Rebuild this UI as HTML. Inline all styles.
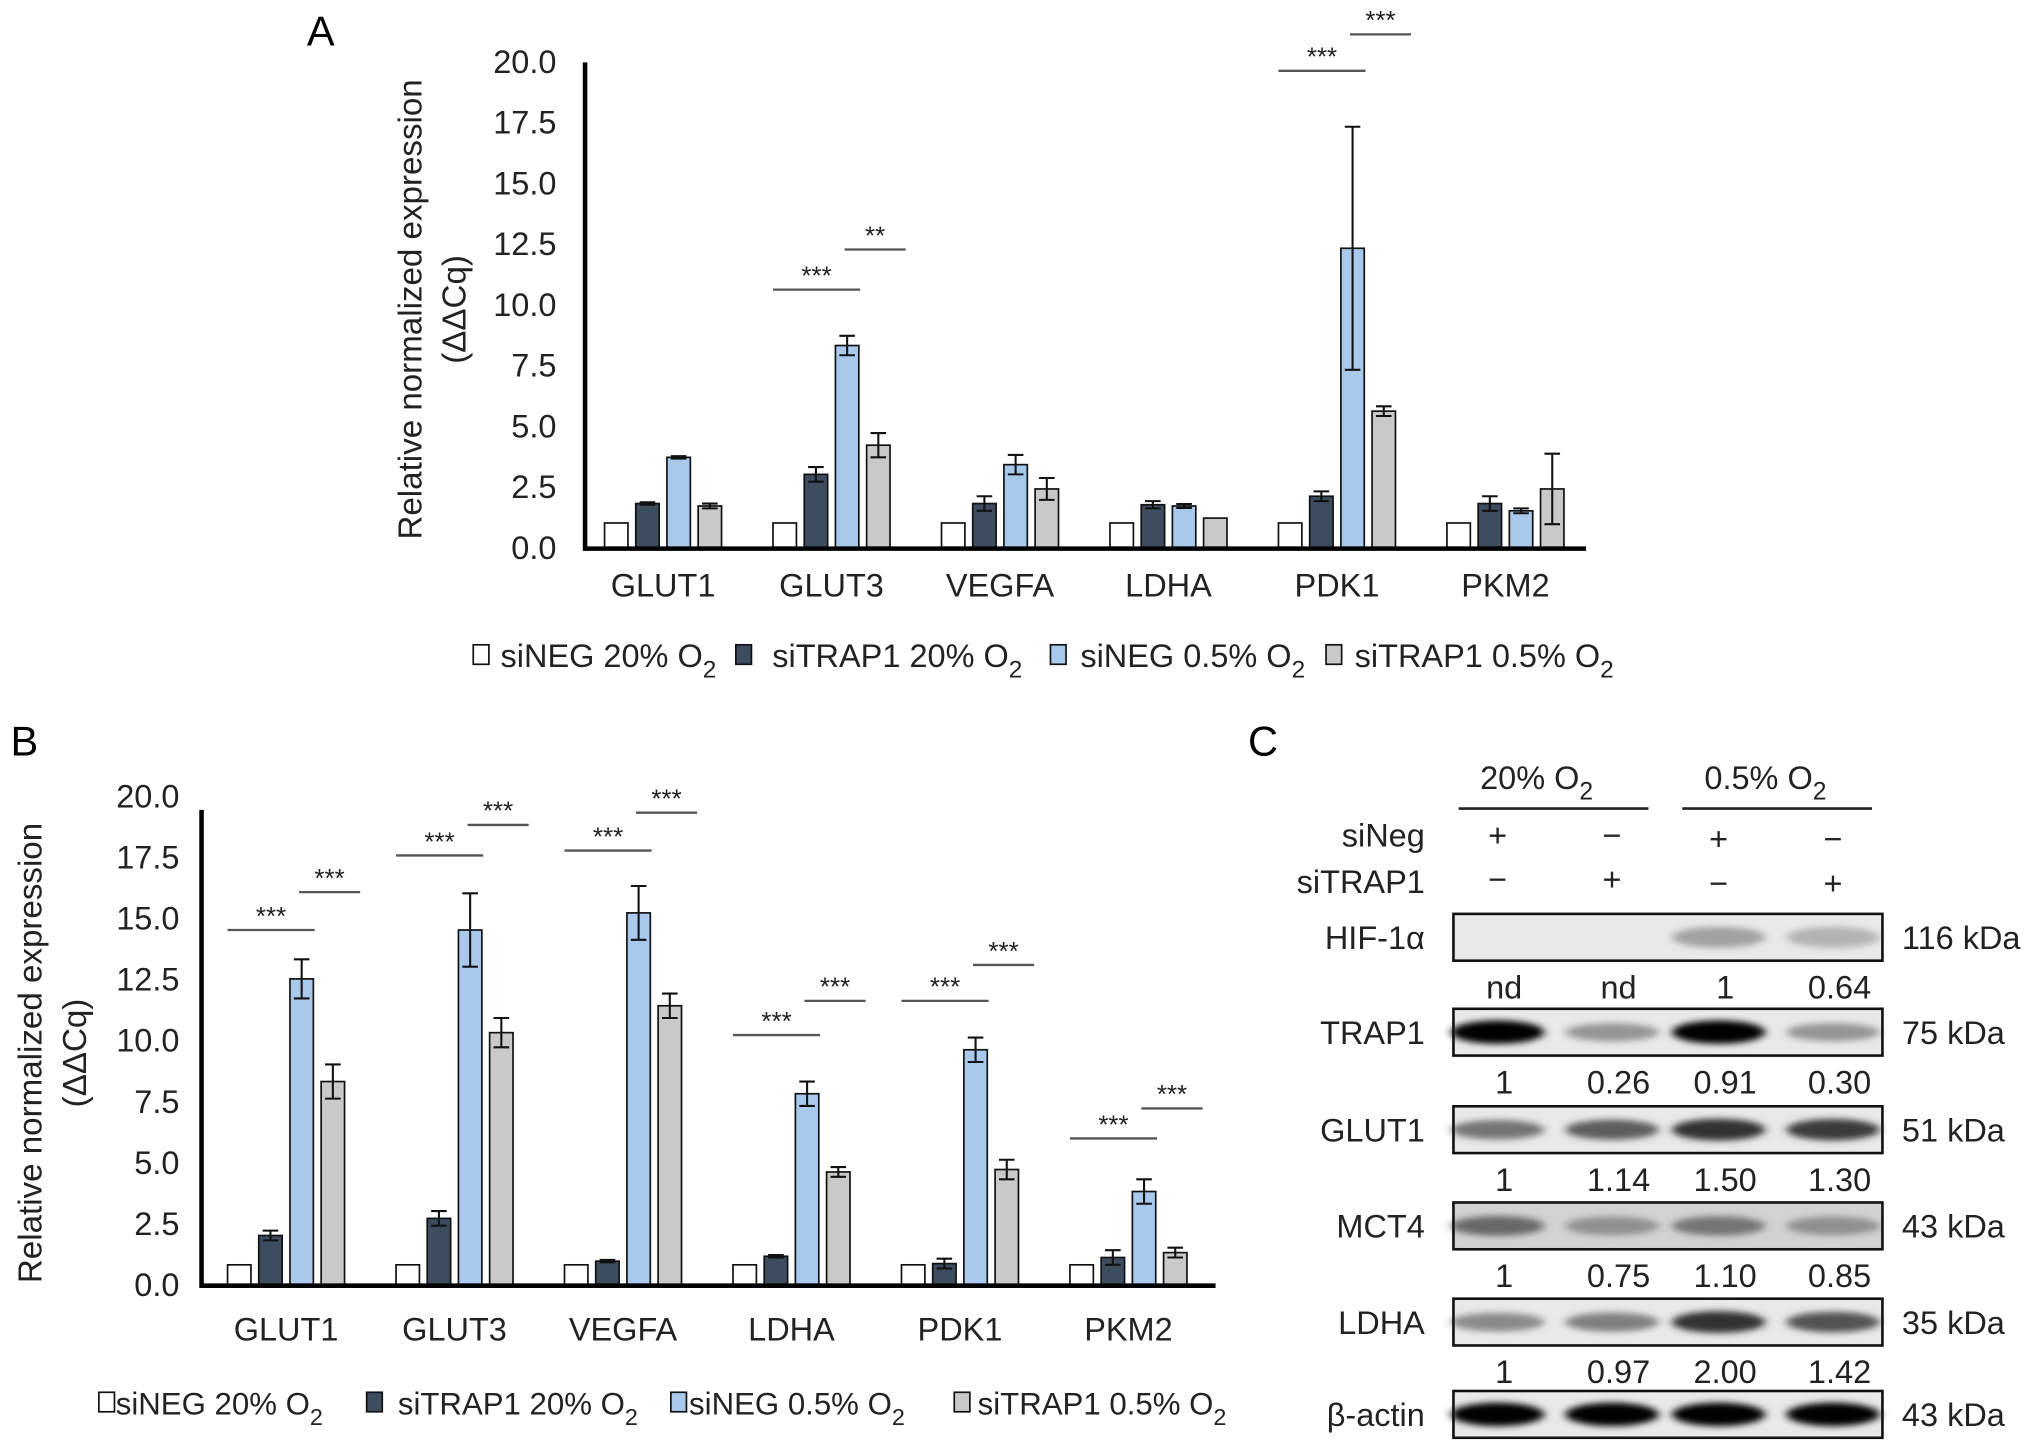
<!DOCTYPE html>
<html><head><meta charset="utf-8">
<style>
html,body{margin:0;padding:0;background:#fff;}
svg{display:block;font-family:"Liberation Sans",Arial,sans-serif;}
</style></head>
<body>
<svg id="fig" width="2032" height="1450" viewBox="0 0 1563 1115.4" xmlns="http://www.w3.org/2000/svg">
<defs>
<filter id="blur" x="-20%" y="-100%" width="140%" height="300%"><feGaussianBlur stdDeviation="3.5 2.5"/></filter>
</defs>
<text x="236" y="35" font-size="32">A</text>
<text x="8" y="581" font-size="32">B</text>
<text x="960" y="581" font-size="32">C</text>
<g id="chartA"></g>
<g id="chartB"></g>
<g id="panelC"></g>
</svg>
<script>
// ---- Data ----
const categories = ["GLUT1","GLUT3","VEGFA","LDHA","PDK1","PKM2"];
const seriesNames = ["siNEG 20% O","siTRAP1 20% O","siNEG 0.5% O","siTRAP1 0.5% O"];
const yTicks = ["0.0","2.5","5.0","7.5","10.0","12.5","15.0","17.5","20.0"];
// Panel A values [series][category]
const aSiNeg20 = [1,1,1,1,1,1];
const aSiTrap20 = [1.8,3.0,1.8,1.75,2.1,1.8];
const aSiNeg05 = [3.7,8.3,3.4,1.7,12.3,1.5];
const aSiTrap05 = [1.7,4.2,2.4,1.2,5.6,2.4];
const aErrNeg20 = [0,0,0,0,0,0];
const aErrTrap20 = [0.05,0.3,0.3,0.15,0.2,0.3];
const aErrNeg05 = [0.05,0.4,0.4,0.08,5.0,0.1];
const aErrTrap05 = [0.1,0.5,0.45,0,0.2,1.45];
// significance: [category index, which line (0/1), level, stars]
const aSig = [[1,0,10.6,"***"],[1,1,12.25,"**"],[4,0,19.6,"***"],[4,1,21.1,"***"]];
// Panel B values
const bSiNeg20 = [0.8,0.8,0.8,0.8,0.8,0.8];
const bSiTrap20 = [2.0,2.7,0.95,1.15,0.85,1.1];
const bSiNeg05 = [12.5,14.5,15.2,7.8,9.6,3.8];
const bSiTrap05 = [8.3,10.3,11.4,4.6,4.7,1.3];
const bErrNeg20 = [0,0,0,0,0,0];
const bErrTrap20 = [0.2,0.3,0.05,0.05,0.2,0.3];
const bErrNeg05 = [0.8,1.5,1.1,0.5,0.5,0.5];
const bErrTrap05 = [0.7,0.6,0.5,0.2,0.4,0.2];
const bSig = [[0,0,14.5,"***"],[0,1,16.05,"***"],[1,0,17.55,"***"],[1,1,18.8,"***"],
  [2,0,17.75,"***"],[2,1,19.3,"***"],[3,0,10.2,"***"],[3,1,11.6,"***"],
  [4,0,11.6,"***"],[4,1,13.07,"***"],[5,0,5.97,"***"],[5,1,7.2,"***"]];
const colors = ["#ffffff","#3e4c5f","#a9c9ec","#c9c9c9"];

const NS = "http://www.w3.org/2000/svg";
function mk(parent, tag, attrs, text){
  const e = document.createElementNS(NS, tag);
  for (const k in attrs) e.setAttribute(k, attrs[k]);
  if (text !== undefined) e.textContent = text;
  parent.appendChild(e);
  return e;
}

function drawChart(g, cfg){
  const {y0,y20,axisX,xEnd,c0,step,vals,errs,sig,tickRight,titleX1,titleX2,titleY,labelY,legend} = cfg;
  const y = v => y0 - v/20*(y0-y20);
  const xc = i => c0 + i*step;
  yTicks.forEach((t,i)=>{
    const tx = mk(g,'text',{x:tickRight,y:y(i*2.5)+9,'font-size':25,'text-anchor':'end',fill:'#222'},t);
    
    
  });
  const t1 = mk(g,'text',{x:titleX1,y:titleY,'font-size':25.5,'text-anchor':'middle',fill:'#222',transform:`rotate(-90 ${titleX1} ${titleY})`},'Relative normalized expression');
  
  
  const t2 = mk(g,'text',{x:titleX2,y:titleY,'font-size':25.5,'text-anchor':'middle',fill:'#222',transform:`rotate(-90 ${titleX2} ${titleY})`},'(ΔΔCq)');
  
  
  vals.forEach((s,j)=>{
    s.forEach((v,i)=>{
      const bx = xc(i) + (j-1.5)*24 - 9;
      const r = mk(g,'rect',{x:bx,y:y(v),width:18,height:y(0)-y(v),fill:colors[j],stroke:'#111','stroke-width':1.3});
      
      
      const e = errs[j][i];
      if (e>0){
        const cx = bx+9;
        const p = mk(g,'path',{d:`M${cx} ${y(v-e)}V${y(v+e)}M${cx-6} ${y(v+e)}H${cx+6}M${cx-6} ${y(v-e)}H${cx+6}`,stroke:'#111','stroke-width':1.6,fill:'none'});
        
        
      }
    });
  });
  const ax = mk(g,'path',{d:`M${axisX} ${cfg.axisTop}V${y(0)+1}H${xEnd}`,stroke:'#000','stroke-width':3.5,fill:'none'});
  
  
  categories.forEach((c,i)=>{
    const l = mk(g,'text',{x:xc(i),y:labelY,'font-size':25,'text-anchor':'middle',fill:'#222'},c);
    
    
  });
  sig.forEach(([i,k,v,s])=>{
    const a = k===0 ? xc(i)-45 : xc(i)+10;
    const b = k===0 ? xc(i)+22 : xc(i)+57;
    const ln = mk(g,'line',{x1:a,x2:b,y1:y(v),y2:y(v),stroke:'#555','stroke-width':1.8});
    
    
    const st = mk(g,'text',{x:(a+b)/2,y:y(v)-4,'font-size':20,'text-anchor':'middle',fill:'#222'},s);
    
    
  });
  legend.sq.forEach((sx,j)=>{
    const r = mk(g,'rect',{x:sx,y:legend.y-17,width:12,height:15,fill:colors[j],stroke:'#111','stroke-width':1.3});
    
    
    const t = mk(g,'text',{x:legend.tx[j],y:legend.y,'font-size':legend.fs,fill:'#222'},seriesNames[j]);
    
    
    mk(t,'tspan',{dy:8,'font-size':legend.fs*0.75},'2');
  });
}

drawChart(document.getElementById('chartA'),{
  y0:421,y20:47,axisX:450,axisTop:48,xEnd:1220,c0:510,step:129.6,
  vals:[aSiNeg20,aSiTrap20,aSiNeg05,aSiTrap05],
  errs:[aErrNeg20,aErrTrap20,aErrNeg05,aErrTrap05],
  sig:aSig,tickRight:428,titleX1:324,titleX2:358,titleY:238,labelY:459,
  legend:{y:513,fs:25,sq:[364,566,808,1020],tx:[385,594,831,1042]}
});
drawChart(document.getElementById('chartB'),{
  y0:988,y20:612,axisX:155,axisTop:623,xEnd:935,c0:220,step:129.6,
  vals:[bSiNeg20,bSiTrap20,bSiNeg05,bSiTrap05],
  errs:[bErrNeg20,bErrTrap20,bErrNeg05,bErrTrap05],
  sig:bSig,tickRight:138,titleX1:32,titleX2:66,titleY:810,labelY:1031,
  legend:{y:1088,fs:24,sq:[76,282,516,734],tx:[89,306,530,752]}
});

// ---- Panel C (western blot) ----
const lanes = [1152,1240,1322,1410];
const blotRows = ["HIF-1α","TRAP1","GLUT1","MCT4","LDHA","β-actin"];
const kDa = ["116 kDa","75 kDa","51 kDa","43 kDa","35 kDa","43 kDa"];
const quant = [["nd","nd","1","0.64"],["1","0.26","0.91","0.30"],["1","1.14","1.50","1.30"],["1","0.75","1.10","0.85"],["1","0.97","2.00","1.42"]];
const bandDarkness = [[0,0,0.3,0.22],[1,0.35,1,0.35],[0.5,0.6,0.8,0.75],[0.55,0.38,0.5,0.38],[0.4,0.45,0.8,0.65],[1,1,1,1]];
const rowTop = [703,776,851,925,999,1070];
const C = document.getElementById('panelC');
function ctext(x,yy,s,anchor,name){
  const t = mk(C,'text',{x:x,y:yy,'font-size':25,'text-anchor':anchor,fill:'#222'},s);
  
  
  return t;
}
let h = ctext(1182,607,'20% O','middle','condition-header-20');
mk(h,'tspan',{dy:8,'font-size':19},'2');
h = ctext(1358,607,'0.5% O','middle','condition-header-0-5');
mk(h,'tspan',{dy:8,'font-size':19},'2');
mk(C,'line',{x1:1122,x2:1268,y1:622,y2:622,stroke:'#222','stroke-width':2});
mk(C,'line',{x1:1294,x2:1440,y1:622,y2:622,stroke:'#222','stroke-width':2});
ctext(1096,651,'siNeg','end','row-label-sineg');
ctext(1096,687,'siTRAP1','end','row-label-sitrap1');
["+","−","+","−"].forEach((s,i)=>ctext(lanes[i],651+(i>=2?3:0),s,'middle','sineg-sign'));
["−","+","−","+"].forEach((s,i)=>ctext(lanes[i],685+(i>=2?3:0),s,'middle','sitrap1-sign'));
blotRows.forEach((name,r)=>{
  const top = rowTop[r], hh = 36;
  const bg = mk(C,'rect',{x:1118,y:top,width:330,height:hh,fill:r===3?'#d2d2d2':'#e9e9e9'});
  
  
  lanes.forEach((lx,i)=>{
    const d = bandDarkness[r][i];
    if (d>0){
      const g = Math.round(228 - d*225);
      mk(C,'ellipse',{cx:lx,cy:top+hh/2,rx:36,ry:r===0?8:6+d*3,fill:`rgb(${g},${g},${g})`,filter:'url(#blur)'});
    }
  });
  mk(C,'rect',{x:1118,y:top,width:330,height:hh,fill:'none',stroke:'#111','stroke-width':2});
  ctext(1096,top+27,name,'end','blot-label');
  ctext(1463,top+27,kDa[r],'start','molecular-weight');
  if (r<5) quant[r].forEach((q,i)=>ctext(lanes[i]+5,top+hh+29,q,'middle','quantification-value'));
});
</script>
</body></html>
